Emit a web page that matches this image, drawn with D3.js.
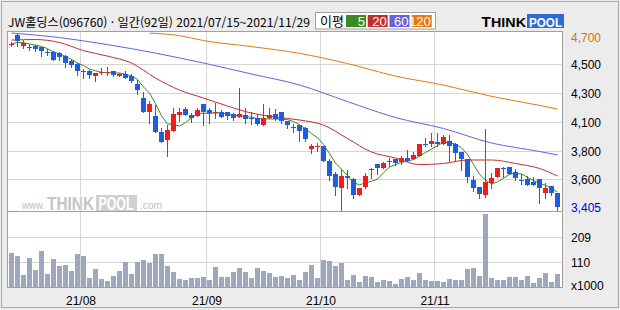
<!DOCTYPE html>
<html lang="ko">
<head>
<meta charset="utf-8">
<title>JW홀딩스 일간 차트</title>
<script src="https://cdn.jsdelivr.net/npm/d3@7"></script>
<style>
  body { margin: 0; background: #ececec; }
  svg { display: block; }
  .lbl { font: 12px "Liberation Sans", Arial, sans-serif; fill: #000; }
</style>
</head>
<body>
<svg id="chart" width="620" height="310"></svg>
<script>
// trading days (2021)
var julDays = [15,16,19,20,21,22,23,26,27,28,29,30];
var augDays = [2,3,4,5,6,9,10,11,12,13,17,18,19,20,23,24,25,26,27,30,31];
var sepDays = [1,2,3,6,7,8,9,10,13,14,15,16,17,23,24,27,28,29,30];
var octDays = [1,5,6,7,8,12,13,14,15,18,19,20,21,22,25,26,27,28,29];
var novDays = [1,2,3,4,5,8,9,10,11,12,15,16,17,18,19,22,23,24,25,26,29];

var opens  = [4645,4720,4630,4625,4630,4625,4590,4585,4580,4560, 4515,4495,4440,4445,4400,4430,4430,4440,4400,4420,
              4405,4340,4235,4130,4100,3975,3915,3985,4105,4150, 4105,4100,4190,4140,4120,4130,4125,4115,4090,4105,
              4085,4085,4025,4080,4115,4130,4060,4015,4025,4005, 3845,3865,3870,3755,3650,3545,3640,3615,3490,3555,
              3690,3730,3700,3750,3765,3745,3775,3770,3795,3885, 3880,3900,3885,3910,3885,3820,3770,3605,3555,3495,
              3585,3630,3700,3710,3670,3610,3615,3590,3615,3505, 3560,3510];
var highs  = [4663,4725,4680,4645,4640,4625,4610,4595,4590,4565, 4535,4500,4460,4450,4430,4465,4470,4445,4425,4440,
              4420,4375,4280,4210,4185,4005,4030,4160,4160,4165, 4120,4160,4190,4160,4195,4145,4125,4120,4310,4160,
              4130,4115,4190,4160,4150,4130,4060,4035,4030,4010, 3885,3890,3870,3770,3670,3690,3685,3620,3550,3660,
              3700,3730,3745,3780,3770,3795,3835,3825,3885,3930, 3965,3965,3955,3950,3890,3825,3770,3640,3555,4000,
              3660,3700,3705,3710,3695,3650,3640,3630,3615,3585, 3565,3510];
var lows   = [4630,4630,4615,4600,4595,4560,4565,4530,4530,4475, 4475,4410,4385,4390,4365,4420,4410,4400,4400,4385,
              4355,4265,4130,4045,3975,3900,3790,3985,4060,4105, 4055,4095,4025,4045,4080,4090,4075,4065,4090,4045,
              4035,4030,4025,4080,4065,4045,4005,3975,3905,3905, 3815,3830,3750,3610,3495,3375,3545,3470,3490,3550,
              3625,3655,3700,3715,3725,3730,3755,3770,3795,3865, 3865,3865,3885,3750,3750,3685,3590,3520,3470,3480,
              3545,3630,3630,3655,3605,3580,3570,3570,3430,3470, 3495,3375];
var closes = [4650,4670,4655,4620,4610,4595,4585,4530,4550,4500, 4490,4445,4435,4415,4430,4435,4435,4415,4420,4385,
              4365,4300,4130,4190,3975,3900,3990,4110,4130,4105, 4085,4145,4130,4120,4125,4090,4095,4085,4115,4075,
              4075,4035,4085,4105,4075,4060,4025,4010,3985,3925, 3870,3870,3750,3640,3555,3640,3620,3490,3545,3640,
              3695,3700,3740,3755,3740,3775,3755,3800,3880,3880, 3910,3880,3935,3870,3815,3770,3630,3545,3500,3590,
              3625,3700,3690,3655,3620,3605,3570,3570,3545,3545, 3505,3405];
// x1000 shares
var volumes = [143,131,52,123,73,151,56,118,90,94, 69,139,131,40,77,36,28,48,69,106,
               56,106,114,103,139,139,90,62,36,32, 40,40,44,32,85,44,44,65,81,65,
               40,81,69,61,44,48,40,52,32,65, 94,40,114,110,90,102,32,52,23,48,
               44,23,32,28,15,36,44,32,61,32, 28,28,23,36,32,32,77,81,48,304,
               40,32,32,44,44,32,48,19,40,61, 23,56];

// moving averages (day index, value)
var ma20Idx  = [0,4,8,12,16,20,24,28,32,36,40,44,48,52,56,60,64,68,72,76,80,84,88,91];
var ma20     = [4679,4683,4660,4598,4556,4503,4388,4296,4235,4174,4120,4090,4067,4028,3925,3822,3776,3726,3734,3761,3761,3734,3696,3638];
var ma60Idx  = [0,8,16,24,32,40,48,56,64,72,80,88,91];
var ma60     = [4733,4698,4644,4579,4503,4419,4335,4208,4086,4002,3891,3826,3799];
var ma120Idx = [23,28,32,40,48,56,64,72,80,88,91];
var ma120    = [4732,4713,4675,4629,4577,4499,4403,4334,4248,4179,4151];

var priceGrid = [4499, 4277, 4055, 3833, 3612];
var priceGridLabels = ["4,500", "4,300", "4,100", "3,800", "3,600"];
var priceTop = 4700, priceLast = 3405;
var volGrid = [104, 207];
var volGridLabels = ["110", "209"];
var monthLabels = ["21/08", "21/09", "21/10", "21/11"];
var monthStarts = ["2021-08-02", "2021-09-01", "2021-10-01", "2021-11-01"];
var maPeriods = [5, 20, 60, 120];
var maColors = ["#3a8a22", "#c0302a", "#6a5fdc", "#e07a12"];

function pad(n) { return n < 10 ? "0" + n : "" + n; }
var dates = [].concat(
  julDays.map(function(d) { return "2021-07-" + pad(d); }),
  augDays.map(function(d) { return "2021-08-" + pad(d); }),
  sepDays.map(function(d) { return "2021-09-" + pad(d); }),
  octDays.map(function(d) { return "2021-10-" + pad(d); }),
  novDays.map(function(d) { return "2021-11-" + pad(d); }));

var candles = dates.map(function(d, i) {
  return {date: d, o: opens[i], h: highs[i], l: lows[i], c: closes[i], v: volumes[i]};
});

// 5-day average of closes
var ma5 = closes.map(function(c, i) {
  var s = closes.slice(Math.max(0, i - 4), i + 1);
  return d3.mean(s);
});

var x = d3.scaleBand().domain(dates).range([8, 560]);
var y = d3.scaleLinear().domain([priceLast, priceTop]).range([206.5, 37.3]);
var yv = d3.scaleLinear().domain([0, 314]).range([287.5, 211.5]);

var svg = d3.select("#chart");

// frame
svg.append("rect").attr("x", 1.5).attr("y", 1.5).attr("width", 617).attr("height", 306)
  .attr("fill", "#ececec").attr("stroke", "#a8a8a8");

// title
svg.append("text").attr("x", 8).attr("y", 27)
  .attr("textLength", 302).attr("lengthAdjust", "spacingAndGlyphs")
  .style("font", "12px 'Noto Sans CJK KR', sans-serif")
  .text("JW홀딩스(096760) · 일간(92일) 2021/07/15~2021/11/29");

// legend
var leg = svg.append("g");
leg.append("rect").attr("x", 315.5).attr("y", 12.5).attr("width", 120).attr("height", 16.5)
  .attr("fill", "#fff").attr("stroke", "#a0a0a0");
leg.append("text").attr("x", 320).attr("y", 25.5)
  .style("font", "13px 'Noto Sans CJK KR', sans-serif").text("이평");
maPeriods.forEach(function(p, k) {
  var bx = [346, 367.7, 389.5, 411.7][k];
  leg.append("rect").attr("x", bx).attr("y", 15).attr("width", 20).attr("height", 12).attr("fill", maColors[k]);
  leg.append("text").attr("x", bx + 19).attr("y", 25.5).attr("text-anchor", "end")
    .style("font", "13px 'Liberation Sans', Arial, sans-serif").attr("fill", "#fff").text(p);
});

// logo
var logo = svg.append("g").style("font-family", "'Liberation Sans', Arial, sans-serif").style("font-weight", "bold");
logo.append("text").attr("x", 481.5).attr("y", 27).style("font-size", "15px").text("T");
logo.append("text").attr("x", 491).attr("y", 27).style("font-size", "12px")
  .attr("textLength", 35).attr("lengthAdjust", "spacingAndGlyphs").text("HINK");
logo.append("rect").attr("x", 527).attr("y", 14).attr("width", 37).attr("height", 14).attr("fill", "#2d6ad6");
logo.append("text").attr("x", 529).attr("y", 26.5).style("font-size", "13px").attr("fill", "#fff")
  .attr("textLength", 33).attr("lengthAdjust", "spacingAndGlyphs").text("POOL");

// plot area
svg.append("rect").attr("x", 7.5).attr("y", 31.5).attr("width", 555).attr("height", 256)
  .attr("fill", "#fff").attr("stroke", "#a0a0a0");

// watermark
var wm = svg.append("g").style("font-family", "'Liberation Sans', Arial, sans-serif");
wm.append("text").attr("x", 22).attr("y", 209).style("font-size", "11px").attr("fill", "#bdbdbd")
  .attr("textLength", 23).attr("lengthAdjust", "spacingAndGlyphs").text("www.");
wm.append("text").attr("x", 47).attr("y", 210).style("font-size", "18px").style("font-weight", "bold")
  .attr("fill", "#c4c4c4").attr("textLength", 47).attr("lengthAdjust", "spacingAndGlyphs").text("THINK");
wm.append("rect").attr("x", 96).attr("y", 195).attr("width", 41).attr("height", 16).attr("fill", "#d0d0d0");
wm.append("text").attr("x", 98.5).attr("y", 210).style("font-size", "18px").style("font-weight", "bold")
  .attr("fill", "#fff").attr("textLength", 35).attr("lengthAdjust", "spacingAndGlyphs").text("POOL");
wm.append("text").attr("x", 140).attr("y", 209).style("font-size", "11px").attr("fill", "#bdbdbd")
  .attr("textLength", 22).attr("lengthAdjust", "spacingAndGlyphs").text(".com");

// grid
var grid = svg.append("g").attr("stroke", "#d6d6d6").attr("shape-rendering", "crispEdges");
grid.selectAll(".pg").data(priceGrid).enter().append("line")
  .attr("x1", 8).attr("x2", 562).attr("y1", function(d) { return Math.round(y(d)) + 0.5; })
  .attr("y2", function(d) { return Math.round(y(d)) + 0.5; });
grid.selectAll(".vg").data(volGrid).enter().append("line")
  .attr("x1", 8).attr("x2", 562).attr("y1", function(d) { return Math.round(yv(d)) + 0.5; })
  .attr("y2", function(d) { return Math.round(yv(d)) + 0.5; });
grid.selectAll(".mg").data(monthStarts).enter().append("line")
  .attr("x1", function(d) { return x(d) + 0.5; }).attr("x2", function(d) { return x(d) + 0.5; })
  .attr("y1", 32).attr("y2", 287);

// panel divider
svg.append("line").attr("x1", 8).attr("x2", 562).attr("y1", 211.5).attr("y2", 211.5).attr("stroke", "#a0a0a0");

svg.append("clipPath").attr("id", "pclip").append("rect")
  .attr("x", 8).attr("y", 32).attr("width", 554).attr("height", 179);

// moving averages
var mas = svg.append("g").attr("clip-path", "url(#pclip)").attr("fill", "none").attr("stroke-width", 1);
function cx(i) { return x(dates[i]) + 3.5; }
var smooth = d3.line().x(function(d) { return cx(d[0]); }).y(function(d) { return y(d[1]); }).curve(d3.curveMonotoneX);
mas.append("path").attr("stroke", maColors[3]).attr("d", smooth(d3.zip(ma120Idx, ma120)));
mas.append("path").attr("stroke", maColors[2]).attr("d", smooth(d3.zip(ma60Idx, ma60)));
mas.append("path").attr("stroke", maColors[1]).attr("d", smooth(d3.zip(ma20Idx, ma20)));
mas.append("path").attr("stroke", maColors[0])
  .attr("d", d3.line().x(function(d, i) { return cx(i); }).y(function(d) { return y(d); })(ma5));

// candles
var upColor = "#f21c1c", downColor = "#1f5de0";
var cg = svg.append("g").attr("shape-rendering", "crispEdges");
var c = cg.selectAll("g").data(candles).enter().append("g");
c.append("line")
  .attr("x1", function(d) { return x(d.date) + 3.5; }).attr("x2", function(d) { return x(d.date) + 3.5; })
  .attr("y1", function(d) { return Math.round(y(d.h)); }).attr("y2", function(d) { return Math.round(y(d.l)) + 1; })
  .attr("stroke", function(d) { return d.c >= d.o ? upColor : downColor; });
c.append("rect")
  .attr("x", function(d) { return x(d.date) + 1; }).attr("width", 5)
  .attr("y", function(d) { return Math.round(y(Math.max(d.o, d.c))); })
  .attr("height", function(d) {
    return Math.max(1, Math.round(y(Math.min(d.o, d.c))) - Math.round(y(Math.max(d.o, d.c))));
  })
  .attr("fill", function(d) { return d.c >= d.o ? upColor : downColor; });

// volume
svg.append("g").attr("shape-rendering", "crispEdges").selectAll("rect").data(candles).enter().append("rect")
  .attr("x", function(d) { return x(d.date) + 1; }).attr("width", 5)
  .attr("y", function(d) { return Math.round(yv(d.v)); })
  .attr("height", function(d) { return 287 - Math.round(yv(d.v)); })
  .attr("fill", "#9fa7bf");

// right axis labels
var ax = svg.append("g");
ax.append("text").attr("class", "lbl").attr("x", 571).attr("y", y(priceTop) + 5)
  .style("fill", "#e07000").text(d3.format(",")(priceTop));
ax.selectAll(".pl").data(priceGrid).enter().append("text").attr("class", "lbl")
  .attr("x", 571).attr("y", function(d) { return Math.round(y(d)) + 5; })
  .text(function(d, i) { return priceGridLabels[i]; });
ax.append("text").attr("class", "lbl").attr("x", 571).attr("y", y(priceLast) + 5)
  .style("fill", "#0000dd").text(d3.format(",")(priceLast));
ax.selectAll(".vl").data(volGrid).enter().append("text").attr("class", "lbl")
  .attr("x", 571).attr("y", function(d) { return Math.round(yv(d)) + 5; })
  .text(function(d, i) { return volGridLabels[i]; });
ax.append("text").attr("class", "lbl").attr("x", 571).attr("y", 290).text("x1000");

// month labels
svg.selectAll(".ml").data(monthStarts).enter().append("text").attr("class", "lbl")
  .attr("x", function(d) { return x(d) + 1; }).attr("y", 305).attr("text-anchor", "middle")
  .text(function(d, i) { return monthLabels[i]; });
</script>
</body>
</html>
